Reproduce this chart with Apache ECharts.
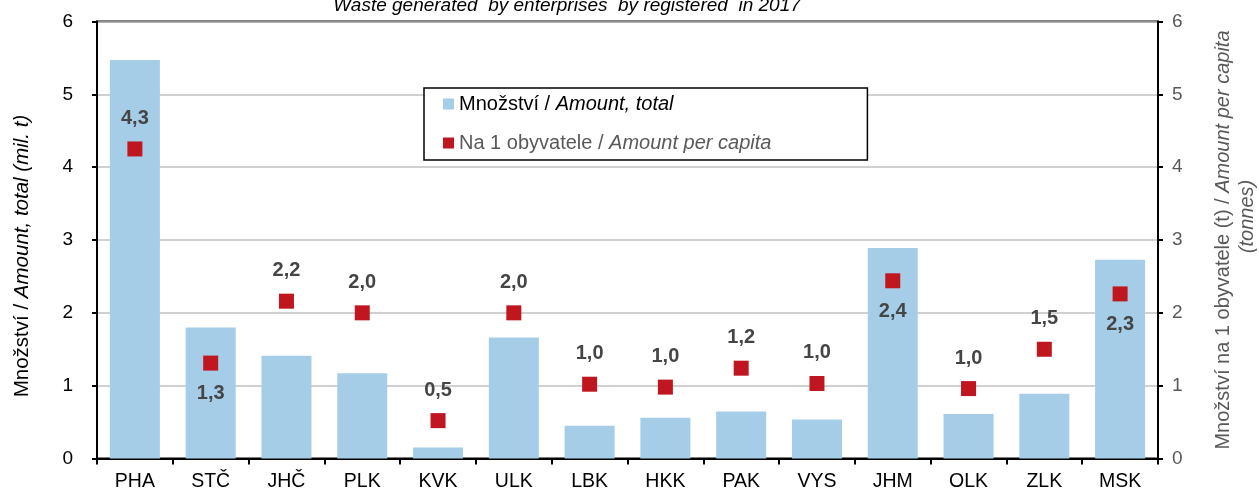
<!DOCTYPE html>
<html>
<head>
<meta charset="utf-8">
<script src="https://cdn.jsdelivr.net/npm/echarts@6/dist/echarts.min.js"></script>
<style>html,body{margin:0;padding:0;background:#fff;}#chart{width:1259px;height:493px;}</style>
</head>
<body>
<div id="chart"></div>
<script>
const regions = ['PHA','STČ','JHČ','PLK','KVK','ULK','LBK','HKK','PAK','VYS','JHM','OLK','ZLK','MSK'];
const amountTotal = [5.47, 1.80, 1.41, 1.17, 0.15, 1.66, 0.45, 0.56, 0.645, 0.535, 2.89, 0.61, 0.89, 2.73];
const amountPerCapita = [4.25, 1.31, 2.16, 2.00, 0.52, 2.00, 1.02, 0.98, 1.24, 1.03, 2.44, 0.96, 1.50, 2.26];
const labelsBelow = ['STČ','JHM','MSK'];
const axisTicks = [0,1,2,3,4,5,6];

const FONT = '"Liberation Sans", Arial, sans-serif';
const fmt = v => v.toFixed(1).replace('.', ',');

const chart = echarts.init(document.getElementById('chart'), null, {renderer:'canvas'});
chart.setOption({
  animation: false,
  backgroundColor: '#fff',
  title: {
    text: 'Waste generated  by enterprises  by registered  in 2017',
    left: 562, top: -9,
    textAlign: 'center',
    textStyle: {fontFamily: FONT, fontSize: 19, fontStyle: 'italic', fontWeight: 'normal', color: '#000'}
  },
  legend: {
    orient: 'vertical',
    left: 424, top: 88,
    padding: [6, 96, 7, 19],
    itemGap: 19,
    itemWidth: 11, itemHeight: 11,
    borderColor: '#000', borderWidth: 1.5,
    backgroundColor: '#fff',
    data: [{name: 'amount', icon: 'rect'}, {name: 'percap', icon: 'rect'}],
    formatter: n => n === 'amount' ? '{n|Množství / }{i|Amount, total}' : '{g|Na 1 obyvatele / }{gi|Amount per capita}',
    textStyle: {
      fontFamily: FONT, fontSize: 20,
      rich: {
        n: {fontFamily: FONT, fontSize: 20, color: '#000'},
        i: {fontFamily: FONT, fontSize: 20, color: '#000', fontStyle: 'italic'},
        g: {fontFamily: FONT, fontSize: 20, color: '#595959'},
        gi: {fontFamily: FONT, fontSize: 20, color: '#595959', fontStyle: 'italic'}
      }
    }
  },
  grid: {left: 97, right: 101, top: 21.5, bottom: 34.5, show: true, borderColor: '#000', borderWidth: 2, containLabel: false, outerBoundsMode: 'none'},
  xAxis: {
    type: 'category',
    data: regions,
    axisLine: {lineStyle: {color: '#000', width: 2}},
    axisTick: {show: true, length: 6, lineStyle: {color: '#000', width: 2}},
    axisLabel: {fontFamily: FONT, fontSize: 19.5, color: '#000', margin: 13}
  },
  yAxis: [{
    type: 'value', min: axisTicks[0], max: axisTicks[axisTicks.length-1], interval: 1,
    position: 'left',
    axisLine: {show: true, lineStyle: {color: '#000', width: 2}},
    axisTick: {show: true, length: 5, lineStyle: {color: '#000', width: 2}},
    axisLabel: {fontFamily: FONT, fontSize: 19, color: '#000', margin: 24},
    splitLine: {show: true, lineStyle: {color: '#c0c0c0', width: 1.5}},
    name: '{n|Množství / }{i|Amount, total (mil. t)}',
    nameLocation: 'middle', nameGap: 64, nameRotate: 90,
    nameTextStyle: {
      fontFamily: FONT, fontSize: 20.5, padding: [0, 32, 0, 0],
      rich: {
        n: {fontFamily: FONT, fontSize: 20.5, color: '#000'},
        i: {fontFamily: FONT, fontSize: 20.5, color: '#000', fontStyle: 'italic'}
      }
    }
  }, {
    type: 'value', min: axisTicks[0], max: axisTicks[axisTicks.length-1], interval: 1,
    position: 'right',
    axisLine: {show: true, lineStyle: {color: '#000', width: 2}},
    axisTick: {show: true, length: 5, inside: false, lineStyle: {color: '#000', width: 2}},
    axisLabel: {fontFamily: FONT, fontSize: 19, color: '#595959', margin: 14},
    splitLine: {show: false},
    name: '{g|Množství na 1 obyvatele (t) / }{gi|Amount per capita}\n{t|(tonnes)}',
    nameLocation: 'middle', nameGap: 53, nameRotate: 90,
    nameTextStyle: {
      fontFamily: FONT, fontSize: 20, align: 'center',
      rich: {
        g: {fontFamily: FONT, fontSize: 20, color: '#595959', lineHeight: 24},
        gi: {fontFamily: FONT, fontSize: 20, color: '#595959', fontStyle: 'italic', lineHeight: 24},
        t: {fontFamily: FONT, fontSize: 20, color: '#595959', fontStyle: 'italic', lineHeight: 24, padding: [0, 0, 0, 47]}
      }
    }
  }],
  series: [{
    name: 'amount',
    type: 'bar',
    yAxisIndex: 0,
    data: amountTotal,
    barWidth: '66%',
    itemStyle: {color: '#a6cde8'},
    z: 1
  }, {
    name: 'percap',
    type: 'scatter',
    yAxisIndex: 1,
    symbol: 'rect',
    symbolSize: 15,
    itemStyle: {color: '#c0161f', opacity: 1},
    data: amountPerCapita.map((v, i) => ({
      value: v,
      label: {position: labelsBelow.includes(regions[i]) ? 'bottom' : 'top'}
    })),
    label: {
      show: true, distance: 13,
      formatter: p => fmt(p.value),
      fontFamily: FONT, fontSize: 20, fontWeight: 'bold', color: '#454545'
    },
    z: 3
  }]
});
</script>
</body>
</html>
